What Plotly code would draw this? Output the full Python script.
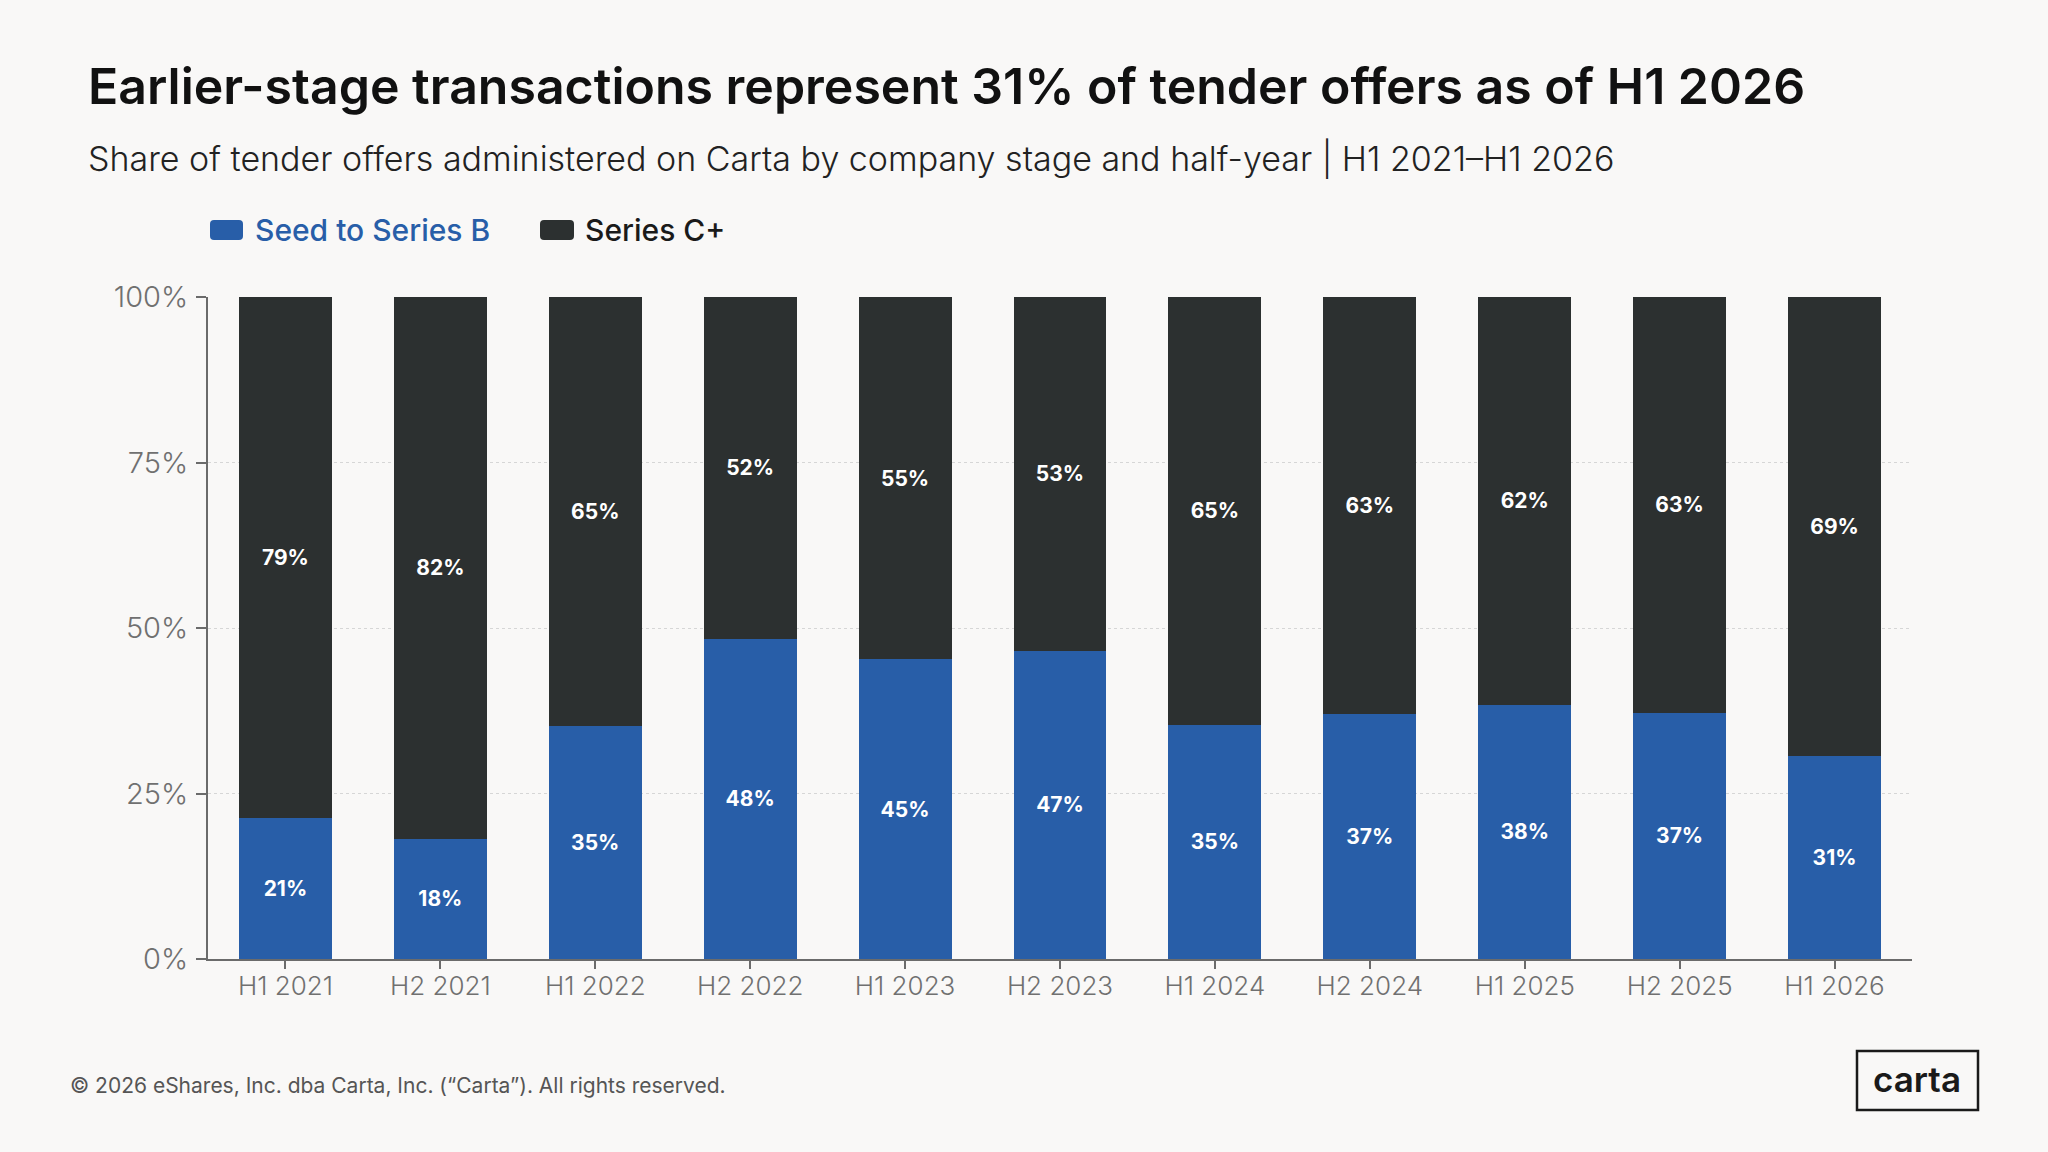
import plotly.graph_objects as go

# ---- data ----
categories = ["H1 2021", "H2 2021", "H1 2022", "H2 2022", "H1 2023", "H2 2023",
              "H1 2024", "H2 2024", "H1 2025", "H2 2025", "H1 2026"]
seed_to_b = [21.3, 18.2, 35.2, 48.4, 45.3, 46.6, 35.4, 37.0, 38.4, 37.2, 30.6]
series_c_plus = [78.7, 81.8, 64.8, 51.6, 54.7, 53.4, 64.6, 63.0, 61.6, 62.8, 69.4]
y_ticks = [0, 25, 50, 75, 100]
y_tick_labels = ["0%", "25%", "50%", "75%", "100%"]

# ---- style ----
W, H = 2048, 1152
L, R, T, B = 208, 136, 297, 193
BG = "#f9f8f7"
BLUE = "#285ea8"
DARK = "#2c3030"
GRAY = "#6b6b6b"
FONT = "Inter"

def px_x(px):
    return (px - L) / (W - L - R)

def px_y(py):
    return (H - B - py) / (H - T - B)

fig = go.Figure()
fig.add_trace(go.Bar(
    x=categories, y=seed_to_b, name="Seed to Series B",
    marker=dict(color=BLUE, line=dict(width=0)),
    texttemplate="%{y:.0f}%", textposition="inside", insidetextanchor="middle",
    textfont=dict(color="white", size=21, family=FONT, weight=700),
    showlegend=False, hoverinfo="x+y",
))
fig.add_trace(go.Bar(
    x=categories, y=series_c_plus, name="Series C+",
    marker=dict(color=DARK, line=dict(width=0)),
    texttemplate="%{y:.0f}%", textposition="inside", insidetextanchor="middle",
    textfont=dict(color="white", size=21, family=FONT, weight=700),
    showlegend=False, hoverinfo="x+y",
))

annotations = [
    dict(text="Earlier-stage transactions represent 31% of tender offers as of H1 2026",
         x=px_x(86), y=px_y(86), xref="paper", yref="paper", xanchor="left", yanchor="middle",
         showarrow=False, font=dict(family=FONT, size=50, color="#111111", weight=600)),
    dict(text="Share of tender offers administered on Carta by company stage and half-year | H1 2021–H1 2026",
         x=px_x(86), y=px_y(158), xref="paper", yref="paper", xanchor="left", yanchor="middle",
         showarrow=False, font=dict(family=FONT, size=34, color="#222222", weight=300)),
    dict(text="Seed to Series B",
         x=px_x(253), y=px_y(230), xref="paper", yref="paper", xanchor="left", yanchor="middle",
         showarrow=False, font=dict(family=FONT, size=30, color=BLUE, weight=500)),
    dict(text="Series C+",
         x=px_x(583), y=px_y(230), xref="paper", yref="paper", xanchor="left", yanchor="middle",
         showarrow=False, font=dict(family=FONT, size=30, color="#1a1a1a", weight=500)),
    dict(text="© 2026 eShares, Inc. dba Carta, Inc. (“Carta”). All rights reserved.",
         x=px_x(68), y=px_y(1085), xref="paper", yref="paper", xanchor="left", yanchor="middle",
         showarrow=False, font=dict(family=FONT, size=21, color="#555555", weight=400)),
    dict(text="carta",
         x=px_x(1917), y=px_y(1079), xref="paper", yref="paper", xanchor="center", yanchor="middle",
         showarrow=False, font=dict(family=FONT, size=35, color="#1a1a1a", weight=600)),
]

def rounded_rect(x0, y0, x1, y1, r):
    X0, X1 = px_x(x0), px_x(x1)
    Y0, Y1 = px_y(y0), px_y(y1)
    rx = r / (W - L - R)
    ry = r / (H - T - B)
    return (f"M {X0+rx} {Y0} L {X1-rx} {Y0} Q {X1} {Y0} {X1} {Y0-ry} "
            f"L {X1} {Y1+ry} Q {X1} {Y1} {X1-rx} {Y1} L {X0+rx} {Y1} "
            f"Q {X0} {Y1} {X0} {Y1+ry} L {X0} {Y0-ry} Q {X0} {Y0} {X0+rx} {Y0} Z")

shapes = [
    dict(type="path", xref="paper", yref="paper", path=rounded_rect(210, 220, 243, 240, 4),
         fillcolor=BLUE, line=dict(width=0)),
    dict(type="path", xref="paper", yref="paper", path=rounded_rect(540, 220, 574, 240, 4),
         fillcolor=DARK, line=dict(width=0)),
    dict(type="rect", xref="paper", yref="paper",
         x0=px_x(1857), x1=px_x(1978), y0=px_y(1051), y1=px_y(1110),
         line=dict(color="#1a1a1a", width=2.5), fillcolor="rgba(0,0,0,0)"),
]

fig.update_layout(
    width=W, height=H,
    margin=dict(l=L, r=R, t=T, b=B, pad=0),
    paper_bgcolor=BG, plot_bgcolor=BG,
    barmode="stack", bargap=0.4,
    font=dict(family=FONT),
    annotations=annotations, shapes=shapes,
    xaxis=dict(
        type="category", range=[-0.5, len(categories) - 0.5],
        showline=True, linecolor=GRAY, linewidth=2,
        ticks="outside", ticklen=8, tickwidth=1.5, tickcolor=GRAY,
        tickfont=dict(family=FONT, size=26, color="#707070", weight=300),
        showgrid=False, zeroline=False, ticklabelstandoff=-5,
    ),
    yaxis=dict(
        range=[0, 100], tickvals=y_ticks, ticktext=y_tick_labels,
        showline=True, linecolor=GRAY, linewidth=2,
        ticks="outside", ticklen=10, tickwidth=1.5, tickcolor=GRAY,
        tickfont=dict(family=FONT, size=29, color="#707070", weight=300),
        showgrid=True, gridcolor="#d6d6d6", gridwidth=1, griddash="dot",
        zeroline=False, ticklabelstandoff=2,
    ),
)

fig.write_html("out.html", post_script="document.body.style.margin='0';",
               config={"displayModeBar": False})
